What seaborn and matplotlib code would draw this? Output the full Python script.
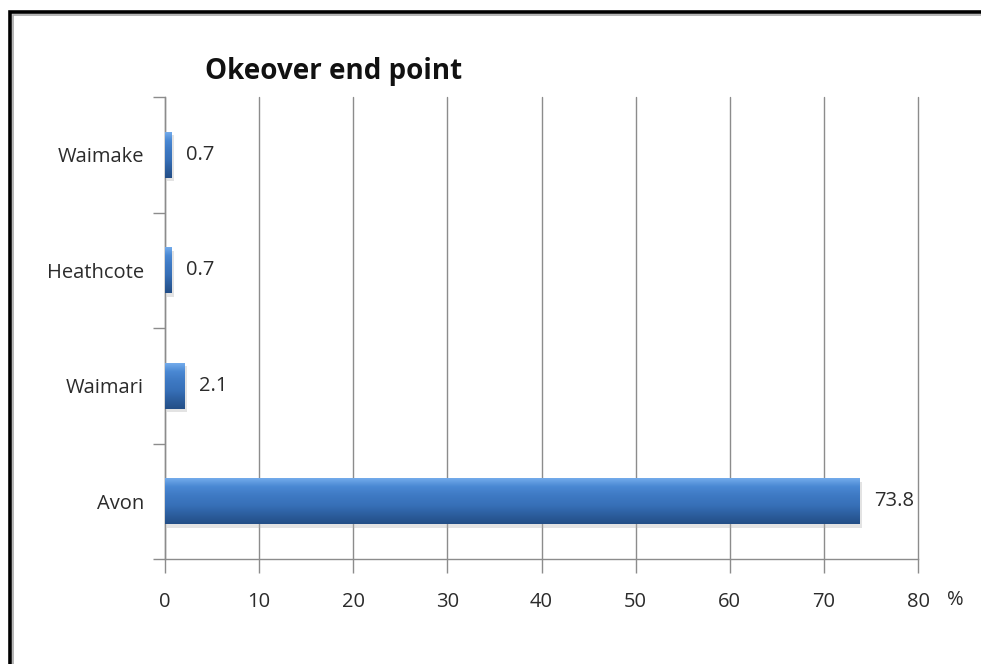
import numpy as np
import pandas as pd
import matplotlib
matplotlib.use("Agg")
import matplotlib.pyplot as plt
import matplotlib.patheffects as pe
from matplotlib.patches import Rectangle
from matplotlib.colors import LinearSegmentedColormap
import seaborn as sns

# Share of end points per catchment (%)
catchments = ["Waimake", "Heathcote", "Waimari", "Avon"]
percent = [0.7, 0.7, 2.1, 73.8]
value_labels = ["0.7", "0.7", "2.1", "73.8"]
x_ticks = [0, 10, 20, 30, 40, 50, 60, 70, 80]
title = "Okeover end point"

df = pd.DataFrame({"catchment": catchments, "percent": percent})

sns.set_theme(style="white")
plt.rcParams["font.family"] = ["Open Sans", "DejaVu Sans"]

W, H = 981, 664
fig = plt.figure(figsize=(W / 100, H / 100), dpi=100)
ax = fig.add_axes([165 / W, 1 - 559 / H, (918 - 165) / W, (559 - 97) / H])

sns.barplot(data=df, y="catchment", x="percent", order=catchments,
            color="#3d78c3", width=0.4, orient="h", ax=ax,
            edgecolor="none", linewidth=0, zorder=3)

# glossy vertical gradient inside each bar, plus a soft drop shadow
cmap = LinearSegmentedColormap.from_list(
    "bevel", ["#78b0ee", "#4a88d3", "#3e79c3", "#3770b8", "#2c5e9e", "#234e86"])
grad = np.linspace(0, 1, 256).reshape(-1, 1)
for p in ax.patches:
    x0, y0 = p.get_x(), p.get_y()
    w, h = p.get_width(), p.get_height()
    p.set_path_effects([pe.SimplePatchShadow(offset=(1.5, -2.5), shadow_rgbFace="#b0b0b0",
                                             alpha=0.35), pe.Normal()])
    im = ax.imshow(grad, cmap=cmap, aspect="auto", extent=(x0, x0 + w, y0 + h, y0),
                   zorder=4, interpolation="bicubic")
    im.set_clip_path(p)

ax.set_xlim(0, 80)
ax.set_ylim(3.5, -0.5)
ax.set_xticks(x_ticks)
ax.set_xticklabels([str(t) for t in x_ticks])
ax.set_xlabel("")
ax.set_ylabel("")

# vertical gridlines (the last one sits on the plot edge, so keep it unclipped)
ax.grid(axis="x", color="#8c8c8c", linewidth=1.0, zorder=0)
ax.grid(axis="y", visible=False)
for gl in ax.get_xgridlines():
    gl.set_clip_on(False)

for side in ["top", "right"]:
    ax.spines[side].set_visible(False)
for side in ["left", "bottom"]:
    ax.spines[side].set_color("#8c8c8c")
    ax.spines[side].set_linewidth(1.0)

text_color = "#2b2b2b"
fs = 14.5
ax.tick_params(axis="x", bottom=True, length=10, width=1.0, color="#8c8c8c",
               pad=14, labelsize=fs, labelcolor=text_color)
# category labels centred in each band, tick marks at band boundaries
ax.tick_params(axis="y", left=False, length=0, pad=15, labelsize=fs, labelcolor=text_color)
ax.set_yticks(np.arange(-0.5, 4.0, 1.0), minor=True)
ax.tick_params(axis="y", which="minor", left=True, length=9, width=1.0, color="#8c8c8c")

for i, (v, lab) in enumerate(zip(percent, value_labels)):
    ax.annotate(lab, xy=(v, i), xytext=(10.5, 0), textcoords="offset points",
                ha="left", va="center", fontsize=fs, color=text_color, zorder=6)

fig.text(955 / W, 1 - 600 / H, "%", ha="center", va="center",
         fontsize=fs, color=text_color)
fig.text(205 / W, 1 - 72 / H, title, ha="left", va="center",
         fontsize=20, fontweight="bold", color="#111111")

# outer frame (left and top edges fall inside the image)
fig.patches.append(Rectangle((9.5 / W, -0.1), 1.2, 1 - 11.5 / H + 0.1,
                             transform=fig.transFigure, fill=False,
                             edgecolor="black", linewidth=2.6, zorder=10))
fig.patches.append(Rectangle((12.5 / W, -0.1), 1.2, 1 - 14.5 / H + 0.1,
                             transform=fig.transFigure, fill=False,
                             edgecolor="#a8a8a8", linewidth=1.2, zorder=10))

fig.savefig("out.png", dpi=100)
